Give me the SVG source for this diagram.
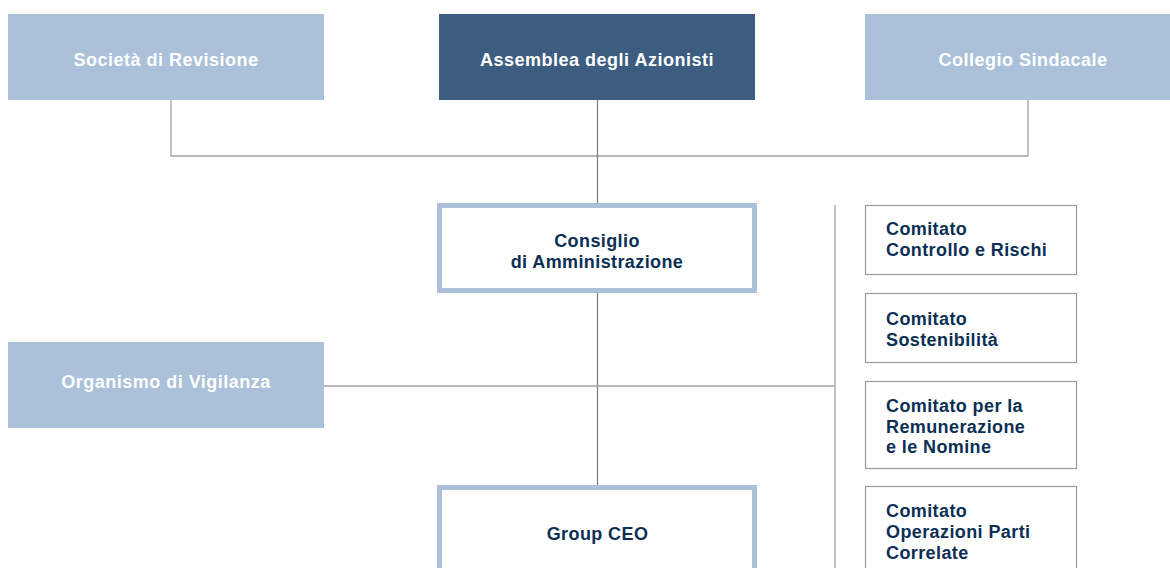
<svg xmlns="http://www.w3.org/2000/svg" width="1170" height="568" viewBox="0 0 1170 568">
<style>
.lb{fill:#aac1d9}
.dk{fill:#3c5c80}
.wt{fill:#ffffff;font-family:"Liberation Sans",Arial,sans-serif;font-weight:bold;font-size:18px;letter-spacing:0.5px}
.nv{fill:#0c2f55;font-family:"Liberation Sans",Arial,sans-serif;font-weight:bold;font-size:18px;letter-spacing:0.4px}
.main{fill:#ffffff;stroke:#aac1d9;stroke-width:5}
.com{fill:#ffffff;stroke:#9a9a9a;stroke-width:1.2}
.ln{fill:none;stroke:#a3a3a3;stroke-width:1.3}
.lnc{fill:none;stroke:#7a7a7a;stroke-width:1.2}
</style>
<rect width="1170" height="568" fill="#ffffff"/>
<g id="connectors">
<polyline class="ln" points="171,100 171,156 1028,156 1028,100"/>
<line class="lnc" x1="597.5" y1="100" x2="597.5" y2="203"/>
<line class="lnc" x1="597.5" y1="293" x2="597.5" y2="485"/>
<line class="ln" x1="324" y1="386" x2="835" y2="386"/>
<line class="ln" x1="835" y1="205" x2="835" y2="568"/>
</g>
<g id="societa">
<rect class="lb" x="8" y="14" width="316" height="86"/>
<text class="wt" x="166" y="66" text-anchor="middle">Società di Revisione</text>
</g>
<g id="assemblea">
<rect class="dk" x="439" y="14" width="316" height="86"/>
<text class="wt" x="597" y="66" text-anchor="middle">Assemblea degli Azionisti</text>
</g>
<g id="collegio">
<rect class="lb" x="865" y="14" width="316" height="86"/>
<text class="wt" x="1023" y="66" text-anchor="middle">Collegio Sindacale</text>
</g>
<g id="consiglio">
<rect class="main" x="439.5" y="205.5" width="315" height="85"/>
<text class="nv" x="597" y="247" text-anchor="middle">Consiglio</text>
<text class="nv" x="597" y="268" text-anchor="middle">di Amministrazione</text>
</g>
<g id="organismo">
<rect class="lb" x="8" y="342" width="316" height="86"/>
<text class="wt" x="166" y="388" text-anchor="middle">Organismo di Vigilanza</text>
</g>
<g id="ceo">
<rect class="main" x="439.5" y="487.5" width="315" height="100"/>
<text class="nv" x="597.5" y="540" text-anchor="middle">Group CEO</text>
</g>
<g id="comitato-controllo">
<rect class="com" x="865.5" y="205.5" width="211" height="69"/>
<text class="nv" x="886" y="235">Comitato</text>
<text class="nv" x="886" y="256">Controllo e Rischi</text>
</g>
<g id="comitato-sostenibilita">
<rect class="com" x="865.5" y="293.5" width="211" height="69"/>
<text class="nv" x="886" y="325">Comitato</text>
<text class="nv" x="886" y="346">Sostenibilità</text>
</g>
<g id="comitato-remunerazione">
<rect class="com" x="865.5" y="381.5" width="211" height="87"/>
<text class="nv" x="886" y="412">Comitato per la</text>
<text class="nv" x="886" y="433">Remunerazione</text>
<text class="nv" x="886" y="453">e le Nomine</text>
</g>
<g id="comitato-opc">
<rect class="com" x="865.5" y="486.5" width="211" height="100"/>
<text class="nv" x="886" y="517">Comitato</text>
<text class="nv" x="886" y="538">Operazioni Parti</text>
<text class="nv" x="886" y="559">Correlate</text>
</g>
</svg>
